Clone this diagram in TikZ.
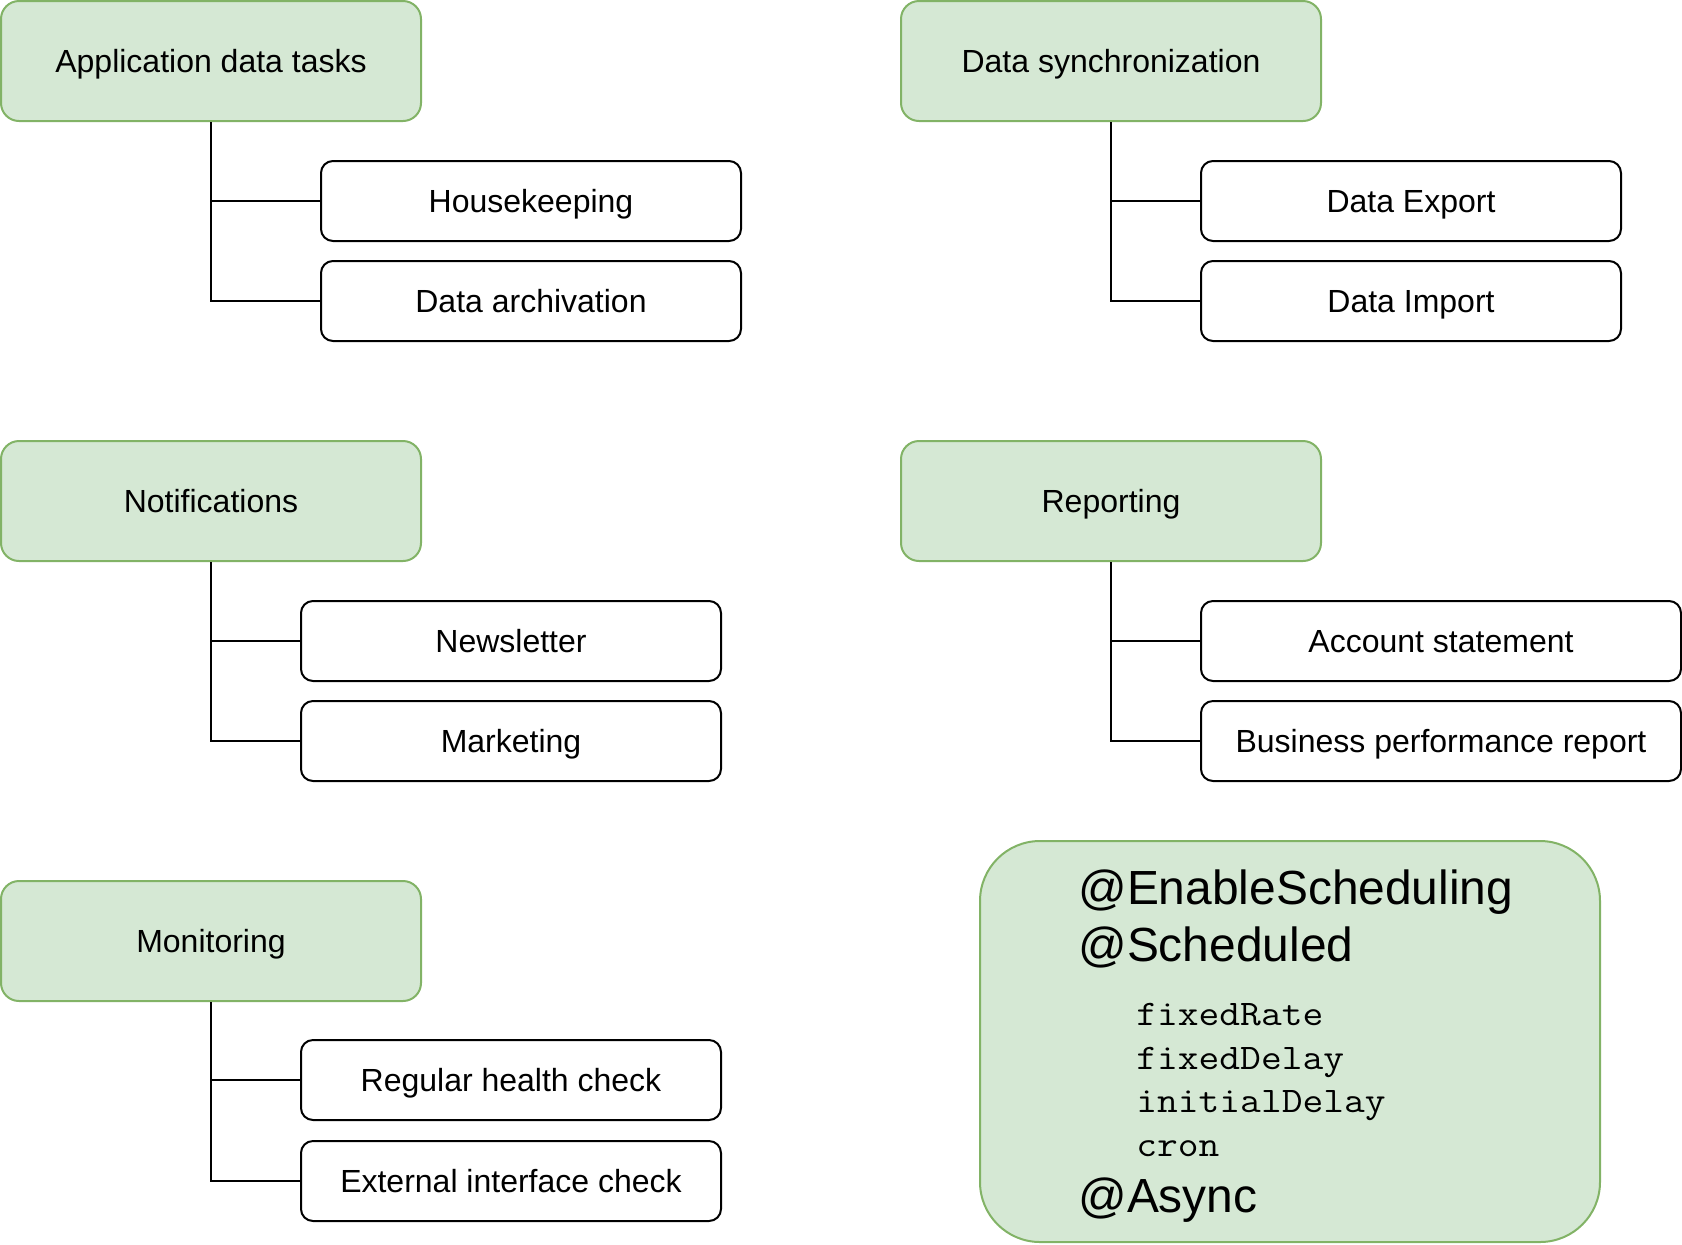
\documentclass[tikz,border=0pt]{standalone}
\usepackage{fontspec}
\setmainfont{Liberation Sans}
\newfontfamily\codefont[FakeStretch=1.12]{Latin Modern Mono}
\definecolor{gfill}{HTML}{D5E8D4}
\definecolor{gline}{HTML}{82B366}
\begin{document}
\begin{tikzpicture}[x=0.5pt,y=-0.5pt,
 boxtxt/.style={font=\fontsize{16pt}{19pt}\selectfont, text height=14.5pt, text depth=3.4pt, inner sep=0pt},
 hdr/.style={boxtxt, draw=gline, fill=gfill, line width=1pt, rounded corners=9pt, minimum width=210pt, minimum height=60pt},
 leaf/.style={boxtxt, draw=black, fill=white, line width=1pt, rounded corners=6pt, minimum width=210pt, minimum height=40pt},
 wideleaf/.style={leaf, minimum width=240pt},
 conn/.style={draw=black, line width=1pt},
 bigtxt/.style={anchor=base west, inner sep=0pt, font=\fontsize{23.95pt}{28pt}\selectfont},
 codetxt/.style={anchor=base west, inner sep=0pt, font=\codefont\fontsize{18pt}{21pt}\selectfont}]
\useasboundingbox (0,0) rectangle (1682,1244);

% headers
\node[hdr] (g1) at (211,61) {Application data tasks};
\node[hdr] (g2) at (1111,61) {Data synchronization};
\node[hdr] (g3) at (211,501) {Notifications};
\node[hdr] (g4) at (1111,501) {Reporting};
\node[hdr] (g5) at (211,941) {Monitoring};

% leaves
\node[leaf] (hk) at (531,201) {Housekeeping};
\node[leaf] (da) at (531,301) {Data archivation};
\node[leaf] (de) at (1411,201) {Data Export};
\node[leaf] (di) at (1411,301) {Data Import};
\node[leaf] (nl) at (511,641) {Newsletter};
\node[leaf] (mk) at (511,741) {Marketing};
\node[wideleaf] (as) at (1441,641) {Account statement};
\node[wideleaf] (bp) at (1441,741) {Business performance report};
\node[leaf] (hc) at (511,1080) {Regular health check};
\node[leaf] (ec) at (511,1181) {External interface check};

% connectors
\draw[conn] (g1.south) |- (hk.west);
\draw[conn] (g1.south) |- (da.west);
\draw[conn] (g2.south) |- (de.west);
\draw[conn] (g2.south) |- (di.west);
\draw[conn] (g3.south) |- (nl.west);
\draw[conn] (g3.south) |- (mk.west);
\draw[conn] (g4.south) |- (as.west);
\draw[conn] (g4.south) |- (bp.west);
\draw[conn] (g5.south) |- (hc.west);
\draw[conn] (g5.south) |- (ec.west);

% annotation box
\node[draw=gline, fill=gfill, line width=1pt, rounded corners=30pt, minimum width=310pt, minimum height=200.5pt, inner sep=0pt] (ann) at (1290,1041.5) {};
\node[bigtxt] (t1) at (1078,904) {@EnableScheduling};
\node[bigtxt] (t2) at (1078,961) {@Scheduled};
\node[codetxt] (c1) at (1136,1025) {fixedRate};
\node[codetxt] (c2) at (1136,1069) {fixedDelay};
\node[codetxt] (c3) at (1136,1112) {initialDelay};
\node[codetxt] (c4) at (1136,1156) {cron};
\node[bigtxt] (t3) at (1078,1212) {@Async};
\end{tikzpicture}
\end{document}
